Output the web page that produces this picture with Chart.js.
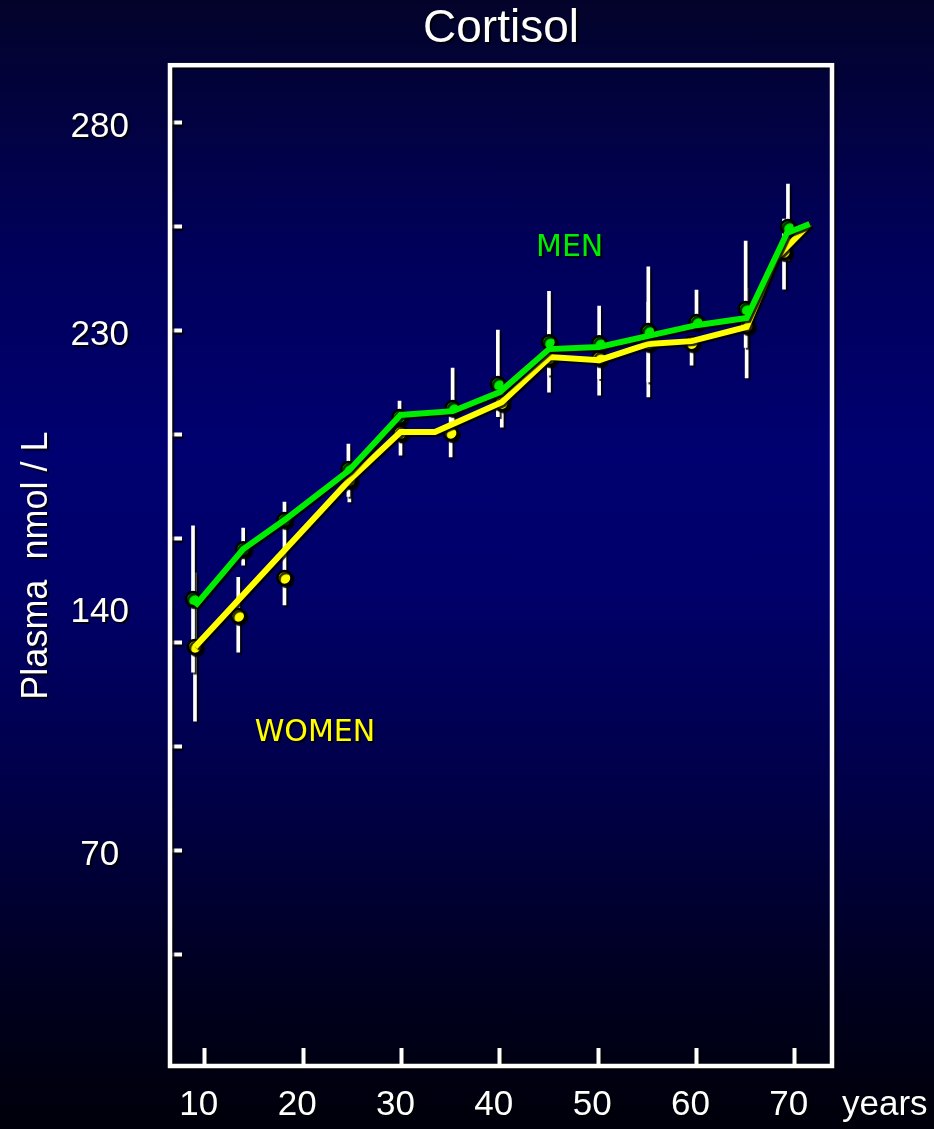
<!DOCTYPE html>
<html>
<head>
<meta charset="utf-8">
<title>Cortisol</title>
<script src="https://cdn.jsdelivr.net/npm/chart.js@4.4.1/dist/chart.umd.min.js"></script>
<style>
  html, body { margin: 0; padding: 0; background: #000; }
  #slide {
    width: 934px; height: 1129px;
    background: linear-gradient(to bottom, #03032a 0%, #00005a 22%, #000070 40%, #00006a 52%, #000048 70%, #00001e 88%, #00000a 100%);
  }
  canvas { display: block; }
</style>
</head>
<body>
<div id="slide"><canvas id="chart" width="934" height="1129"></canvas></div>
<script>
// Group means (plasma cortisol, nmol/L) by age
const menAges     = [8.8, 13.9, 18.1, 24.6, 29.8, 35.2, 39.8, 45.0, 50.1, 55.1, 60.0, 65.0, 69.3];
const menMeans    = [142.4, 156.8, 165.2, 179.9, 194.9, 197.5, 204.4, 216.5, 216.2, 219.7, 222.3, 226.1, 249.7];
const menRanges   = [[121.3, 163.5], [152.2, 162.9], [157.0, 170.4], [172.0, 187.1], [188.0, 199.5], [190.0, 209.0],
                     [195.0, 220.0], [207.0, 231.2], [206.0, 226.9], [205.0, 238.2], [220.0, 231.5], [215.0, 245.7], [240.0, 262.1]];

const womenAges   = [9.0, 13.4, 18.1, 24.7, 29.9, 35.0, 40.2, 45.0, 50.1, 55.1, 59.5, 65.1, 68.9];
const womenMeans  = [128.6, 137.5, 148.5, 176.7, 190.3, 190.3, 198.9, 211.9, 211.9, 216.2, 216.2, 221.2, 242.5];
const womenRanges = [[107.2, 150.0], [127.1, 148.7], [140.7, 156.3], [170.4, 180.0], [183.9, 195.0], [183.4, 195.0],
                     [192.0, 205.0], [202.1, 220.0], [201.2, 218.0], [200.7, 228.0], [209.9, 218.3], [206.2, 232.0], [231.8, 252.0]];

// Trend lines through the group means
const menTrendAges     = [9.0, 13.9, 18.1, 24.7, 29.9, 35.2, 40.0, 45.0, 50.1, 55.1, 60.0, 65.1, 69.2, 71.5];
const menTrendValues   = [140.4, 156.8, 165.2, 179.6, 195.5, 196.6, 202.1, 214.5, 215.1, 218.3, 221.4, 223.5, 248.0, 250.6];
const womenTrendAges   = [9.0, 24.7, 29.9, 33.4, 40.2, 45.1, 50.1, 55.1, 59.5, 65.1, 68.1, 71.5];
const womenTrendValues = [128.6, 176.7, 190.6, 190.6, 199.2, 212.2, 211.3, 216.0, 216.8, 220.9, 240.8, 250.6];

// Axis ticks
const xTickValues  = [10, 20, 30, 40, 50, 60, 70];
const yTickValues  = [40, 70, 100, 130, 160, 190, 220, 250, 280];
const yLabelValues = [280, 220, 140, 70];
const yLabelTexts  = ['280', '230', '140', '70'];

const GREEN = '#00ec00';
const YELLOW = '#ffff00';

const toPoints = (xs, ys) => xs.map((x, i) => ({ x: x, y: ys[i] }));

// Shadows, plot frame and in-plot captions
const slideDecor = {
  id: 'slideDecor',
  beforeDraw(chart) {
    const c = chart.ctx;
    c.save();
    c.shadowColor = 'rgba(0,0,0,0.85)';
    c.shadowOffsetX = 2;
    c.shadowOffsetY = 2;
    c.shadowBlur = 1;
  },
  beforeDatasetsDraw(chart) {
    const { ctx, chartArea: a } = chart;
    ctx.save();
    ctx.strokeStyle = '#ffffff';
    ctx.lineWidth = 4.5;
    ctx.strokeRect(a.left, a.top, a.right - a.left, a.bottom - a.top);
    ctx.restore();
  },
  afterDatasetsDraw(chart, args, opts) {
    const { ctx, scales } = chart;
    ctx.save();
    ctx.textBaseline = 'middle';
    ctx.textAlign = 'center';
    opts.captions.forEach(cap => {
      ctx.font = cap.font;
      ctx.fillStyle = cap.color;
      ctx.fillText(cap.text, scales.x.getPixelForValue(cap.x), scales.y.getPixelForValue(cap.y));
    });
    ctx.textAlign = 'left';
    ctx.font = opts.unitFont;
    ctx.fillStyle = '#ffffff';
    ctx.fillText(opts.unitText, scales.x.right + 10, scales.x.top + 39);
    ctx.restore();
  },
  afterDraw(chart) {
    chart.ctx.restore();
  }
};

// Axis boxes keep fixed sizes and do not push the plot area around
const fixBox = (w, h) => s => {
  if (w !== null) s.width = w;
  if (h !== null) s.height = h;
  s.paddingTop = 0; s.paddingBottom = 0; s.paddingLeft = 0; s.paddingRight = 0;
};

new Chart(document.getElementById('chart'), {
  type: 'line',
  data: {
    datasets: [
      {
        label: 'MEN',
        data: toPoints(menTrendAges, menTrendValues),
        borderColor: GREEN, borderWidth: 6, pointRadius: 0, tension: 0,
        order: 0
      },
      {
        label: 'WOMEN',
        data: toPoints(womenTrendAges, womenTrendValues),
        borderColor: YELLOW, borderWidth: 6, pointRadius: 0, tension: 0,
        order: 1
      },
      {
        label: 'MEN means',
        data: toPoints(menAges, menMeans),
        showLine: false,
        pointRadius: 7, pointBorderWidth: 2.5,
        pointBackgroundColor: GREEN, pointBorderColor: '#000000',
        order: 2
      },
      {
        label: 'WOMEN means',
        data: toPoints(womenAges, womenMeans),
        showLine: false,
        pointRadius: 7, pointBorderWidth: 2.5,
        pointBackgroundColor: YELLOW, pointBorderColor: '#000000',
        order: 3
      },
      {
        type: 'bar',
        label: 'MEN range',
        data: toPoints(menAges, menRanges),
        backgroundColor: '#ffffff', borderWidth: 0,
        barThickness: 3, grouped: false,
        order: 4
      },
      {
        type: 'bar',
        label: 'WOMEN range',
        data: toPoints(womenAges, womenRanges),
        backgroundColor: '#ffffff', borderWidth: 0,
        barThickness: 3, grouped: false,
        order: 5
      }
    ]
  },
  options: {
    responsive: false,
    devicePixelRatio: 1,
    animation: false,
    events: [],
    layout: { padding: { left: 8, right: 102, top: 0, bottom: 0 } },
    scales: {
      x: {
        type: 'linear',
        offset: false,
        min: 6.46, max: 73.78,
        afterBuildTicks: s => { s.ticks = xTickValues.map(v => ({ value: v })); },
        afterFit: fixBox(null, 63),
        border: { display: false },
        grid: { offset: false, drawOnChartArea: false, drawTicks: true, tickLength: -18, tickWidth: 4, tickColor: '#ffffff' },
        ticks: {
          color: '#ffffff', padding: 36, labelOffset: -6, maxRotation: 0, autoSkip: false,
          font: { family: '"Liberation Sans", Arial, sans-serif', size: 35 }
        }
      },
      y: {
        type: 'linear',
        min: 7.7, max: 296.4,
        afterBuildTicks: s => {
          const vals = yTickValues.concat(yLabelValues.filter(v => !yTickValues.includes(v)));
          s.ticks = vals.sort((a, b) => a - b).map(v => ({ value: v }));
        },
        afterFit: fixBox(162, null),
        border: { display: false },
        grid: {
          drawOnChartArea: false, drawTicks: true, tickLength: -12, tickWidth: 4,
          tickColor: c => (c.tick && yTickValues.includes(c.tick.value)) ? '#ffffff' : 'rgba(0,0,0,0)'
        },
        ticks: {
          color: '#ffffff', padding: 53, labelOffset: 5, crossAlign: 'center', autoSkip: false,
          font: { family: '"Liberation Sans", Arial, sans-serif', size: 35 },
          callback: v => {
            const i = yLabelValues.indexOf(v);
            return i >= 0 ? yLabelTexts[i] : '';
          }
        },
        title: {
          display: true,
          text: 'Plasma  nmol / L',
          color: '#ffffff',
          padding: { top: 7, bottom: 0 },
          font: { family: '"Liberation Sans", Arial, sans-serif', size: 36 }
        }
      }
    },
    plugins: {
      legend: { display: false },
      tooltip: { enabled: false },
      title: {
        display: true,
        text: 'Cortisol',
        fullSize: false,
        color: '#ffffff',
        padding: { top: 2, bottom: 8 },
        font: { family: '"Liberation Sans", Arial, sans-serif', size: 46, weight: 'normal' }
      },
      slideDecor: {
        captions: [
          { text: 'MEN', color: GREEN, x: 47.1, y: 243.7, font: '30px "DejaVu Sans", Verdana, sans-serif' },
          { text: 'WOMEN', color: YELLOW, x: 21.2, y: 103.8, font: '30px "DejaVu Sans", Verdana, sans-serif' }
        ],
        unitText: 'years',
        unitFont: '35px "Liberation Sans", Arial, sans-serif'
      }
    }
  },
  plugins: [slideDecor]
});
</script>
</body>
</html>
